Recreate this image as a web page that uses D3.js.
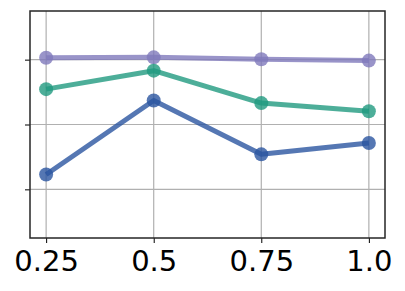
<!DOCTYPE html>
<html>
<head>
<meta charset="utf-8">
<script src="https://cdn.jsdelivr.net/npm/d3@7"></script>
<style>
  body { margin: 0; background: #fff; }
  svg { display: block; }
</style>
</head>
<body>
<svg id="chart" width="405" height="291"></svg>
<script>
// data
let xValues = [0.25, 0.5, 0.75, 1.0];
let xTickLabels = ["0.25", "0.5", "0.75", "1.0"];
let yTicks = [0.2, 0.4, 0.6];

let purpleValues = [0.606, 0.607, 0.601, 0.597];
let tealValues = [0.509, 0.566, 0.466, 0.441];
let blueValues = [0.246, 0.474, 0.308, 0.343];

let seriesNames = ["purple", "teal", "blue"];
let seriesColors = ["#7f79bc", "#219a80", "#2a55a0"];

let series = [purpleValues, tealValues, blueValues].map(function (vals, i) {
  return {
    name: seriesNames[i],
    color: seriesColors[i],
    points: vals.map(function (v, j) { return { x: xValues[j], y: v }; })
  };
});

let plotLeft = 30, plotTop = 11, plotRight = 385, plotBottom = 238;

// scales, matplotlib style 5% margin on x
let xScale = d3.scaleLinear()
  .domain([0.2125, 1.0375])
  .range([plotLeft, plotRight]);

let yScale = d3.scaleLinear()
  .domain([0.05, 0.75])
  .range([plotBottom, plotTop]);

let svg = d3.select("#chart");

// grid
svg.append("g")
  .selectAll("line")
  .data(xValues)
  .enter()
  .append("line")
  .attr("x1", d => xScale(d))
  .attr("x2", d => xScale(d))
  .attr("y1", plotTop)
  .attr("y2", plotBottom)
  .attr("stroke", "#b0b0b0")
  .attr("stroke-width", 1.2);

svg.append("g")
  .selectAll("line")
  .data(yTicks)
  .enter()
  .append("line")
  .attr("x1", plotLeft)
  .attr("x2", plotRight)
  .attr("y1", d => yScale(d))
  .attr("y2", d => yScale(d))
  .attr("stroke", "#b0b0b0")
  .attr("stroke-width", 1.2);

// lines and markers
let line = d3.line()
  .x(d => xScale(d.x))
  .y(d => yScale(d.y));

let groups = svg.append("g")
  .selectAll("g")
  .data(series)
  .enter()
  .append("g");

groups.append("path")
  .attr("d", d => line(d.points))
  .attr("fill", "none")
  .attr("stroke", d => d.color)
  .attr("stroke-width", 5)
  .attr("stroke-opacity", 0.8)
  .attr("stroke-linejoin", "round");

groups.selectAll("circle")
  .data(d => d.points.map(p => ({ x: p.x, y: p.y, color: d.color })))
  .enter()
  .append("circle")
  .attr("cx", d => xScale(d.x))
  .attr("cy", d => yScale(d.y))
  .attr("r", 7)
  .attr("fill", d => d.color)
  .attr("fill-opacity", 0.8);

// axes
let xAxis = d3.axisBottom(xScale)
  .tickValues(xValues)
  .tickFormat((d, i) => xTickLabels[i])
  .tickSize(5)
  .tickPadding(7);

let gx = svg.append("g")
  .attr("transform", "translate(0," + plotBottom + ")")
  .call(xAxis);
gx.select(".domain").remove();
gx.selectAll("line").attr("stroke", "#000").attr("stroke-width", 1);
gx.selectAll("text")
  .attr("fill", "#000")
  .style("font-family", "DejaVu Sans")
  .style("font-size", "29px");

let yAxis = d3.axisLeft(yScale)
  .tickValues(yTicks)
  .tickFormat("")
  .tickSize(5);

let gy = svg.append("g")
  .attr("transform", "translate(" + plotLeft + ",0)")
  .call(yAxis);
gy.select(".domain").remove();
gy.selectAll("line").attr("stroke", "#000").attr("stroke-width", 1);

// frame
svg.append("rect")
  .attr("x", plotLeft)
  .attr("y", plotTop)
  .attr("width", plotRight - plotLeft)
  .attr("height", plotBottom - plotTop)
  .attr("fill", "none")
  .attr("stroke", "#262626")
  .attr("stroke-width", 1.5);
</script>
</body>
</html>
